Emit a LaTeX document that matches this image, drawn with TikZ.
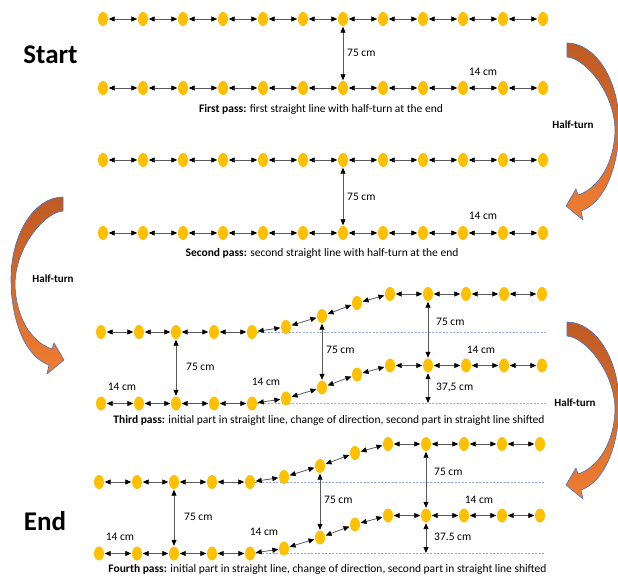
\documentclass[tikz,border=0pt]{standalone}
\usepackage{fontspec}
\setmainfont{Carlito}
\usetikzlibrary{arrows.meta,shapes.geometric}
\pgfdeclarelayer{bg}
\pgfsetlayers{bg,main}
\definecolor{dotc}{RGB}{255,192,0}
\definecolor{linec}{RGB}{90,90,90}
\definecolor{dashc}{RGB}{143,170,220}
\definecolor{arrtop}{RGB}{190,90,35}
\definecolor{arrbot}{RGB}{240,125,50}
\definecolor{arredge}{RGB}{68,114,196}
\tikzset{
  dot/.style={ellipse, fill=dotc, draw=none, minimum width=10pt, minimum height=14pt, inner sep=0pt},
  conn/.style={draw=linec, line width=0.8pt,
    {Triangle[color=black,length=6pt,width=5pt]}-{Triangle[color=black,length=6pt,width=5pt]},
    shorten <=0.5pt, shorten >=0.5pt},
  guide/.style={draw=dashc, line width=0.7pt, dash pattern=on 2pt off 1.5pt},
  meas/.style={font=\fontsize{11.5}{13}\selectfont, inner sep=0pt},
  capt/.style={font=\fontsize{11.5}{13}\selectfont, inner sep=0pt},
  turnlabel/.style={font=\bfseries\fontsize{11}{13}\selectfont, inner sep=0pt},
  bigtitle/.style={font=\bfseries\fontsize{27}{30}\selectfont, inner sep=0pt},
  turnarrow/.style={top color=arrtop, bottom color=arrbot, draw=arredge, line width=0.6pt, line join=round},
  halfturn/.pic={
    \shadedraw[turnarrow] (0,0) .. controls (28,0) and (52,36) .. (52,82)
      .. controls (52,125) and (37,160) .. (14,168) -- (16,177) -- (-1,163) -- (9,146) -- (11,152)
      .. controls (32,145) and (47,120) .. (48,88)
      .. controls (48,50) and (18,15) .. (0,14) -- cycle;
  }
}
\begin{document}
\begin{tikzpicture}[x=1pt,y=-1pt]
\useasboundingbox (0,0) rectangle (618,578);
% straight passes
\foreach \ya/\yb/\T/\B in {19/88/A/B, 160/233/C/D}{
  \foreach \i in {1,...,12}{
    \node[dot] (\T\i) at ({103+40*(\i-1)},\ya) {};
    \node[dot] (\B\i) at ({103+40*(\i-1)},\yb) {};
  }
  \foreach \i [remember=\i as \k (initially 1)] in {2,...,12}{
    \draw[conn] (\T\k) -- (\T\i);
    \draw[conn] (\B\k) -- (\B\i);
  }
  \draw[conn] (\T7) -- (\B7);
}
% shifted passes
\foreach \dxm/\dy/\T/\B in {0/0/E/F, 2/150/G/H}{
  \foreach \x/\y [count=\i] in {101/332,139/332,176/332,214/332,252/332,286/327,322/316,357/303,390/294,428/294,466/294,504/294,542/294}{
    \node[dot] (\T\i) at ({\x-\dxm},{\y+\dy}) {};
    \node[dot] (\B\i) at ({\x-\dxm},{\y+\dy+71.5}) {};
  }
  \foreach \i [remember=\i as \k (initially 1)] in {2,...,13}{
    \draw[conn] (\T\k) -- (\T\i);
    \draw[conn] (\B\k) -- (\B\i);
  }
  \draw[conn] (\T3) -- (\B3);
  \draw[conn] (\T7) -- (\B7);
  \draw[conn] (\T10) -- (\B10);
  \coordinate (\B0) at (\B10 |- \B1);
  \draw[conn] (\B10) -- (\B0);
  \begin{pgfonlayer}{bg}
    \draw[guide] (\T5.east) -- (\T5.east -| \T13.east);
    \draw[guide] (\B5.east) -- (\B5.east -| \B13.east);
  \end{pgfonlayer}
}
% titles
\node[bigtitle] (start) at (50.5,55) {Start};
\node[bigtitle] (end) at (45,521) {End};
% labels pass 1 and 2
\node[meas, anchor=west] (l1a) at (347,53) {75 cm};
\node[meas] (l1b) at (483,72) {14 cm};
\node[capt] (c1) at (321,109) {\textbf{First pass:} first straight line with half-turn at the end};
\node[meas, anchor=west] (l2a) at (347,197) {75 cm};
\node[meas] (l2b) at (483,216) {14 cm};
\node[capt] (c2) at (322,253) {\textbf{Second pass:} second straight line with half-turn at the end};
% labels pass 3
\node[meas, anchor=west] (l3a) at (186,367) {75 cm};
\node[meas, anchor=west] (l3b) at (326,350) {75 cm};
\node[meas, anchor=west] (l3c) at (436,322) {75 cm};
\node[meas, anchor=west] (l3d) at (436,387) {37,5 cm};
\node[meas] (l3e) at (122,387) {14 cm};
\node[meas] (l3f) at (266,382) {14 cm};
\node[meas] (l3g) at (481,350) {14 cm};
\node[capt] (c3) at (329,420) {\textbf{Third pass:} initial part in straight line, change of direction, second part in straight line shifted};
% labels pass 4
\node[meas, anchor=west] (l4a) at (184,517) {75 cm};
\node[meas, anchor=west] (l4b) at (324,500) {75 cm};
\node[meas, anchor=west] (l4c) at (434,472) {75 cm};
\node[meas, anchor=west] (l4d) at (434,537) {37.5 cm};
\node[meas] (l4e) at (120,537) {14 cm};
\node[meas] (l4f) at (264,532) {14 cm};
\node[meas] (l4g) at (479,500) {14 cm};
\node[capt] (c4) at (327.5,569) {\textbf{Fourth pass:} initial part in straight line, change of direction, second part in straight line shifted};
% half-turn arrows
\pic at (567,43) {halfturn};
\pic at (567,322) {halfturn};
\pic[xscale=-1] at (63,197) {halfturn};
\node[turnlabel] (h1) at (573,125) {Half-turn};
\node[turnlabel] (h2) at (53,279) {Half-turn};
\node[turnlabel] (h3) at (575,403) {Half-turn};
\end{tikzpicture}
\end{document}
